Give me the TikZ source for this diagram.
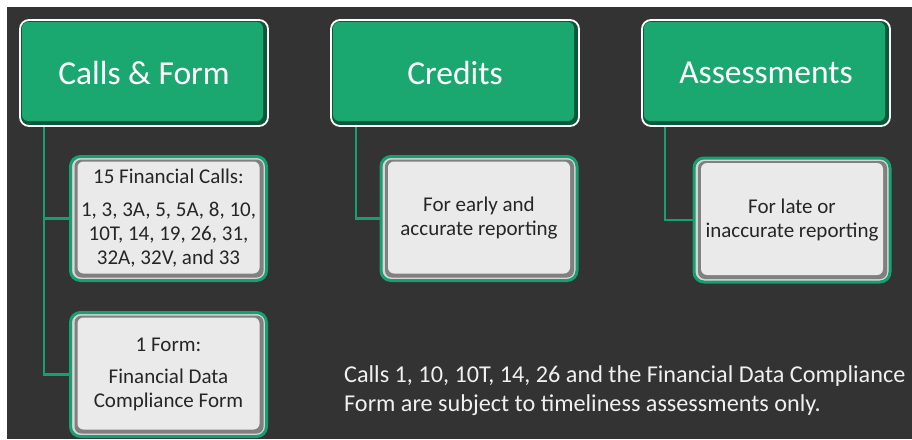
\documentclass[tikz,border=0pt]{standalone}
\usepackage{fontspec}
\setmainfont{Carlito}
\definecolor{bgdark}{RGB}{51,51,51}
\definecolor{hdrgreen}{RGB}{27,168,112}
\definecolor{hdrshade}{RGB}{10,88,58}
\definecolor{linkgreen}{RGB}{22,160,112}
\definecolor{boxgray}{RGB}{234,234,234}
\definecolor{boxedge}{RGB}{128,128,128}
\definecolor{boxrim}{RGB}{214,214,214}
\definecolor{txtgray}{RGB}{38,38,38}
\definecolor{notetxt}{RGB}{240,240,240}

\begin{document}
\begin{tikzpicture}[x=1pt,y=-1pt,
  header/.style={draw=white, line width=1.8pt, fill=hdrshade, rounded corners=9pt,
    minimum width=248pt, minimum height=106pt, text=white,
    font=\fontsize{33.5}{36}\selectfont,
    path picture={\fill[hdrgreen, rounded corners=6pt]
      ([shift={(2pt,-2pt)}]path picture bounding box.north west) rectangle
      ([shift={(-5pt,5pt)}]path picture bounding box.south east);}},
  subbox/.style={draw=linkgreen, line width=3pt, fill=boxrim, rounded corners=10pt,
    minimum width=196pt, minimum height=124pt, align=center, text=txtgray,
    font=\fontsize{21}{24}\selectfont,
    path picture={\fill[boxedge, rounded corners=7pt]
      ([shift={(4pt,-3pt)}]path picture bounding box.north west) rectangle
      ([shift={(-3pt,3pt)}]path picture bounding box.south east);
      \fill[boxgray, rounded corners=6pt]
      ([shift={(7pt,-5pt)}]path picture bounding box.north west) rectangle
      ([shift={(-7pt,7pt)}]path picture bounding box.south east);}},
  link/.style={draw=linkgreen, line width=2.5pt},
  note/.style={text=notetxt, align=left, inner sep=0pt, font=\fontsize{24.2}{29}\selectfont}]

\useasboundingbox (0,0) rectangle (912,439);
\fill[white] (0,0) rectangle (912,439);
\fill[bgdark] (7,7) rectangle (912,439);

% HEADERS
\node[header] (calls)   at (144,73) {Calls \& Form};
\node[header] (credits) at (455,73) {Credits};
\node[header] (assess)  at (766,73) {Assessments};

% BOXES
\node[subbox] (fincalls) at (168.5,218.5)
  {15 Financial Calls:\\[9pt]1, 3, 3A, 5, 5A, 8, 10,\\10T, 14, 19, 26, 31,\\32A, 32V, and 33};
\node[subbox] (form) at (168.5,374.5)
  {1 Form:\\[8pt]Financial Data\\Compliance Form};
\node[subbox] (early) at (479,218.5) {For early and\\accurate reporting};
\node[subbox] (late)  at (792,220)   {For late or\\inaccurate reporting};

% ARROWS
\draw[link] ([xshift=25pt]calls.south west) |- (fincalls.west);
\draw[link] ([xshift=25pt]calls.south west) |- (form.west);
\draw[link] ([xshift=26pt]credits.south west) |- (early.west);
\draw[link] ([xshift=24pt]assess.south west) |- (late.west);

% NOTES
\node[note, anchor=north west] (remark) at (344,365)
  {Calls 1, 10, 10T, 14, 26 and the Financial Data Compliance\\
   Form are subject to timeliness assessments only.};

\end{tikzpicture}
\end{document}
